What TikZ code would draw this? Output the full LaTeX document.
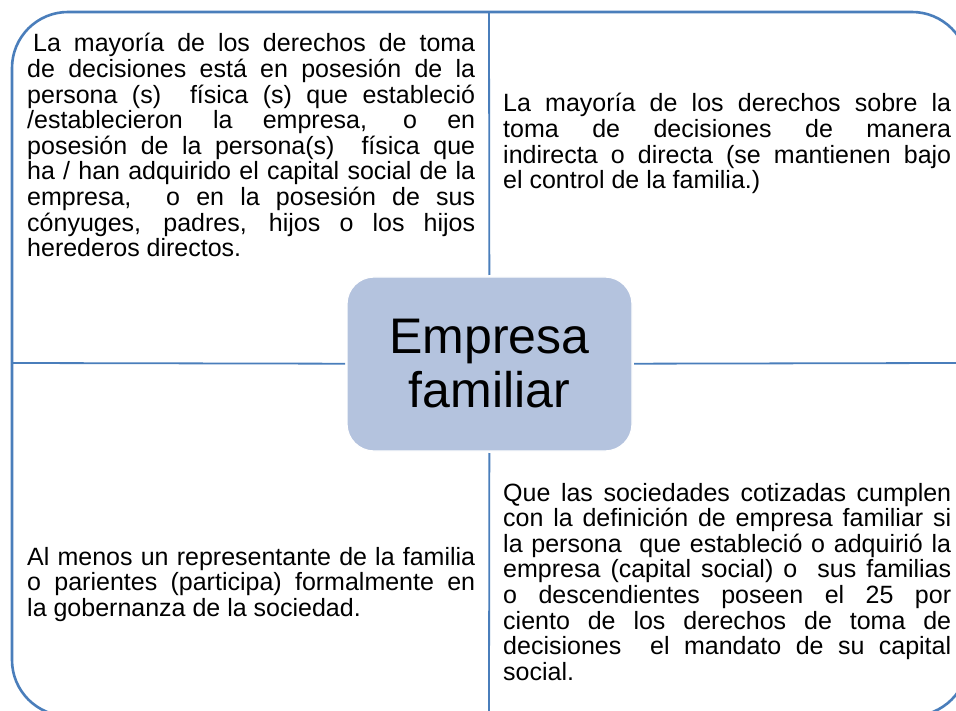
\documentclass[tikz,border=0pt]{standalone}
\usepackage{fontspec}
\setmainfont{Liberation Sans}
\usetikzlibrary{positioning}
\definecolor{frameblue}{RGB}{74,126,187}
\definecolor{coreblue}{RGB}{180,195,222}

\begin{document}
\begin{tikzpicture}[x=1pt,y=-1pt,
frame/.style={draw=frameblue,line width=2.6pt,rounded corners=56pt},
cross/.style={draw=frameblue,line width=1.8pt},
quad/.style={anchor=base west,inner sep=0pt,text width=448pt,align=justify,
font=\fontsize{25}{25.6}\selectfont,
execute at begin node={\tolerance=10000\relax\hyphenpenalty=10000\relax}},
core/.style={fill=coreblue,draw=white,line width=1.2pt,rounded corners=27pt,
minimum width=285pt,minimum height=174pt,align=center,outer sep=2pt,
font=\fontsize{50}{54}\selectfont}]
\useasboundingbox (0,0) rectangle (956,711);
\clip (0,0) rectangle (956,711);
\draw [frame] (12,12) rectangle (968,716);
% ends of the cross on the frame
\coordinate (top) at (489,12);
\coordinate (bottom) at (489,711);
\coordinate (left) at (12,363);
\coordinate (right) at (956,363);
\node [core] (empresa) at (489.5,364) {Empresa\\familiar};
\draw [cross] (empresa) -- (top);
\draw [cross] (empresa) -- (bottom);
\draw [cross] (empresa) -- (left);
\draw [cross] (empresa) -- (right);
% the four quarters
\node [quad] (control) at (27,52) {\hspace*{6pt}La mayoría de los derechos de toma\linebreak
de decisiones está en posesión de la\linebreak
persona (s) \ física (s) que estableció\linebreak
/establecieron la empresa, o en\linebreak
posesión de la persona(s) \ física que\linebreak
ha / han adquirido el capital social de la\linebreak
empresa, \ o en la posesión de sus\linebreak
cónyuges, padres, hijos o los hijos\linebreak
herederos directos.};
\node [quad] (derechos) at (503,112) {La mayoría de los derechos sobre la\linebreak
toma de decisiones de manera\linebreak
indirecta o directa (se mantienen bajo\linebreak
el control de la familia.)};
\node [quad] (gobierno) at (27,565) {Al menos un representante de la familia\linebreak
o parientes (participa) formalmente en\linebreak
la gobernanza de la sociedad.};
\node [quad] (cotizadas) at (503,501) {Que las sociedades cotizadas cumplen\linebreak
con la definición de empresa familiar si\linebreak
la persona \ que estableció o adquirió la\linebreak
empresa (capital social) o \ sus familias\linebreak
o descendientes poseen el 25 por\linebreak
ciento de los derechos de toma de\linebreak
decisiones \ el mandato de su capital\linebreak
social.};
\end{tikzpicture}
\end{document}
